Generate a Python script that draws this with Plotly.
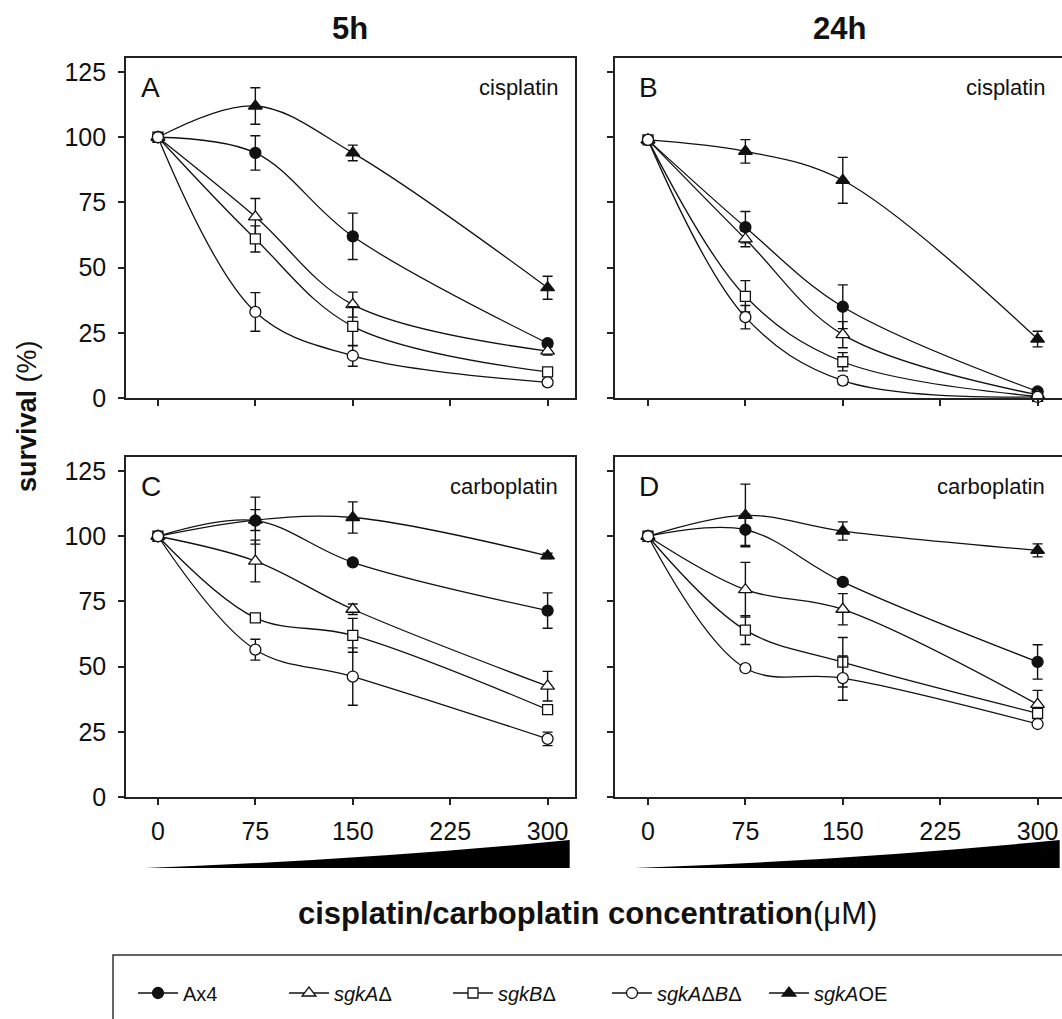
import plotly.graph_objects as go

# ---------------- data ----------------
conc = [0, 75, 150, 300]
x_ticks = [0, 75, 150, 225, 300]
y_ticks = [0, 25, 50, 75, 100, 125]

series = ["Ax4", "sgkAΔ", "sgkBΔ", "sgkAΔBΔ", "sgkAOE"]
legend_names = ["Ax4", "<i>sgkA</i>Δ", "<i>sgkB</i>Δ", "<i>sgkA</i>Δ<i>B</i>Δ", "<i>sgkA</i>OE"]

panel_letters = ["A", "B", "C", "D"]
panel_drugs = ["cisplatin", "cisplatin", "carboplatin", "carboplatin"]
col_titles = ["5h", "24h"]

# Panel A: 5h cisplatin
A_vals = {
    "Ax4":     [100, 94, 62, 21],
    "sgkAΔ":   [100, 69.5, 35.8, 18],
    "sgkBΔ":   [100, 61, 27.5, 10],
    "sgkAΔBΔ": [100, 33, 16.2, 6],
    "sgkAOE":  [100, 112, 94, 42.3],
}
A_err = {
    "Ax4":     [0, 6.6, 8.9, 1.2],
    "sgkAΔ":   [0, 7, 4.8, 1.5],
    "sgkBΔ":   [0, 5, 7.5, 1],
    "sgkAΔBΔ": [0, 7.4, 4, 1],
    "sgkAOE":  [0, 7, 3, 4.4],
}
# Panel B: 24h cisplatin
B_vals = {
    "Ax4":     [99, 65.5, 35, 2.5],
    "sgkAΔ":   [99, 61, 24.3, 1.2],
    "sgkBΔ":   [99, 39, 13.9, 0.6],
    "sgkAΔBΔ": [99, 31, 6.7, 0.4],
    "sgkAOE":  [99, 94.6, 83.5, 22.6],
}
B_err = {
    "Ax4":     [0, 6, 8.4, 1],
    "sgkAΔ":   [0, 3, 5, 0.5],
    "sgkBΔ":   [0, 6, 3.5, 0.5],
    "sgkAΔBΔ": [0, 4.5, 1.5, 0.3],
    "sgkAOE":  [0, 4.5, 8.8, 3],
}
# Panel C: 5h carboplatin
C_vals = {
    "Ax4":     [100, 106, 90, 71.5],
    "sgkAΔ":   [100, 90.5, 72, 42.5],
    "sgkBΔ":   [100, 68.7, 62, 33.5],
    "sgkAΔBΔ": [100, 56.5, 46.2, 22.3],
    "sgkAOE":  [100, 106.2, 107.2, 92.5],
}
C_err = {
    "Ax4":     [0, 9, 1, 6.8],
    "sgkAΔ":   [0, 8, 2, 5.7],
    "sgkBΔ":   [0, 1, 6.5, 1.5],
    "sgkAΔBΔ": [0, 4, 11, 2.6],
    "sgkAOE":  [0, 4, 6, 1],
}
# Panel D: 24h carboplatin
D_vals = {
    "Ax4":     [100, 102.5, 82.5, 51.8],
    "sgkAΔ":   [100, 79.5, 72, 35.5],
    "sgkBΔ":   [100, 64, 51.7, 32.1],
    "sgkAΔBΔ": [100, 49.4, 45.6, 28],
    "sgkAOE":  [100, 108, 102, 94.6],
}
D_err = {
    "Ax4":     [0, 6, 1, 6.6],
    "sgkAΔ":   [0, 10.5, 6, 5.4],
    "sgkBΔ":   [0, 5.5, 9.5, 1],
    "sgkAΔBΔ": [0, 0.5, 8.5, 0.5],
    "sgkAOE":  [0, 12, 3.5, 2.5],
}

panel_vals = [A_vals, B_vals, C_vals, D_vals]
panel_errs = [A_err, B_err, C_err, D_err]

# ---------------- styling ----------------
W, H = 1062, 1019
INK = "#111111"
FONT = "Liberation Sans, Arial, Helvetica, sans-serif"

sym = {"Ax4": "circle", "sgkAΔ": "triangle-up", "sgkBΔ": "square",
       "sgkAΔBΔ": "circle", "sgkAOE": "triangle-up"}
fill = {"Ax4": INK, "sgkAΔ": "white", "sgkBΔ": "white",
        "sgkAΔBΔ": "white", "sgkAOE": INK}
msize = {"Ax4": 11, "sgkAΔ": 12, "sgkBΔ": 10, "sgkAΔBΔ": 11, "sgkAOE": 12}
draw_order = ["sgkAOE", "Ax4", "sgkAΔ", "sgkBΔ", "sgkAΔBΔ"]
legend_ids = {"Ax4": "legend", "sgkAΔ": "legend2", "sgkBΔ": "legend3",
              "sgkAΔBΔ": "legend4", "sgkAOE": "legend5"}
legend_marker_px = {"Ax4": 155, "sgkAΔ": 306, "sgkBΔ": 470, "sgkAΔBΔ": 629, "sgkAOE": 786}

# frame pixel positions
left_cols = [(126, 575), (615, 1062)]
rows = [(58, 398), (457, 797)]
xranges = [[-24.6, 321.1], [-25.4, 318.8]]
yrange = [0, 130.4]

fig = go.Figure()

for p in range(4):
    r, c = divmod(p, 2)
    ax = "" if p == 0 else str(p + 1)
    vals, errs = panel_vals[p], panel_errs[p]
    for s in draw_order:
        fig.add_trace(go.Scatter(
            x=conc, y=vals[s],
            name=legend_names[series.index(s)],
            mode="lines+markers",
            line=dict(color=INK, width=1.3, shape="spline", smoothing=1),
            marker=dict(symbol=sym[s], size=msize[s], color=fill[s],
                        line=dict(color=INK, width=1.3)),
            error_y=dict(type="data", array=errs[s], visible=True,
                         color=INK, thickness=1.4, width=5),
            cliponaxis=False,
            xaxis="x" + ax, yaxis="y" + ax,
            showlegend=(p == 0),
            legend=legend_ids[s],
        ))

    x0, x1 = left_cols[c]
    y0, y1 = rows[r]
    xa = dict(
        domain=[x0 / W, x1 / W], range=xranges[c],
        tickvals=x_ticks, showticklabels=(r == 1),
        ticks="outside", ticklen=6, tickwidth=1.5, tickcolor="#222",
        showline=True, linewidth=1.6, linecolor="#222", mirror=True,
        showgrid=False, zeroline=False,
        tickfont=dict(family=FONT, size=25, color=INK),
        ticklabelstandoff=5,
        anchor="y" + ax,
    )
    ya = dict(
        domain=[1 - y1 / H, 1 - y0 / H], range=yrange,
        tickvals=y_ticks, showticklabels=(c == 0),
        ticks="outside", ticklen=6, tickwidth=1.5, tickcolor="#222",
        showline=True, linewidth=1.6, linecolor="#222", mirror=(c == 0),
        showgrid=False, zeroline=False,
        tickfont=dict(family=FONT, size=25, color=INK),
        ticklabelstandoff=7,
        anchor="x" + ax,
    )
    fig.layout["xaxis" + ax] = xa
    fig.layout["yaxis" + ax] = ya

    # panel letter and drug name
    fig.add_annotation(text=panel_letters[p], xref=f"x{ax} domain", yref=f"y{ax} domain",
                       x=0.03 if c == 0 else 0.05, y=1 - 29 / 340, xanchor="left", yanchor="middle",
                       showarrow=False, font=dict(family=FONT, size=28, color=INK))
    fig.add_annotation(text=panel_drugs[p], xref=f"x{ax} domain", yref=f"y{ax} domain",
                       x=0.967, y=1 - 29 / 340, xanchor="right", yanchor="middle",
                       showarrow=False, font=dict(family=FONT, size=22, color=INK))

# column titles
for c, t in enumerate(col_titles):
    fig.add_annotation(text=f"<b>{t}</b>", xref="paper", yref="paper",
                       x=[350, 839][c] / W, y=1 - 28 / H, xanchor="center", yanchor="middle",
                       showarrow=False, font=dict(family=FONT, size=31, color=INK))

# axis titles
fig.add_annotation(text="<b>survival</b> (%)", xref="paper", yref="paper",
                   x=27 / W, y=1 - 416 / H, textangle=-90, xanchor="center", yanchor="middle",
                   showarrow=False, font=dict(family=FONT, size=27, color=INK))
fig.add_annotation(text="<b>cisplatin/carboplatin concentration</b>(μM)", xref="paper", yref="paper",
                   x=587 / W, y=1 - 913 / H, xanchor="center", yanchor="middle",
                   showarrow=False, font=dict(family=FONT, size=31, color=INK))

# concentration wedges
wb, wt = 1 - 868 / H, 1 - 840 / H
shapes = []
for xr in ["x3", "x4"]:
    shapes.append(dict(type="path", xref=xr, yref="paper",
                       path=f"M -10,{wb} L 317,{wb} L 317,{wt} Q 160,{wb + 0.008} -10,{wb} Z",
                       fillcolor="black", line=dict(width=0)))
# legend frame
shapes.append(dict(type="rect", xref="paper", yref="paper",
                   x0=113 / W, x1=1.05, y0=-0.05, y1=1 - 955 / H,
                   line=dict(color="#333", width=1.5), fillcolor="rgba(0,0,0,0)"))
fig.update_layout(shapes=shapes)

# one legend per entry so each can be placed precisely
for s in series:
    lid = legend_ids[s]
    fig.layout[lid] = dict(
        x=(legend_marker_px[s] - 22) / W, y=1 - 993 / H,
        xanchor="left", yanchor="middle",
        bgcolor="rgba(0,0,0,0)", borderwidth=0,
        font=dict(family=FONT, size=20, color=INK),
        itemwidth=40,
    )

fig.update_layout(
    width=W, height=H, autosize=False,
    margin=dict(l=0, r=0, t=0, b=0, autoexpand=False),
    plot_bgcolor="white", paper_bgcolor="white",
    showlegend=True,
)

post = (
    "var gd=document.getElementById('{plot_id}');"
    "gd.style.position='fixed';gd.style.top='0px';gd.style.left='0px';"
    "var de=document.documentElement, b=document.body;"
    "de.style.margin='0';b.style.margin='0';de.style.padding='0';b.style.padding='0';"
    "de.style.height='1019px';b.style.height='1019px';"
    "de.style.overflow='hidden';b.style.overflow='hidden';"
)

fig.write_html("out.html", config={"displayModeBar": False}, post_script=post)
